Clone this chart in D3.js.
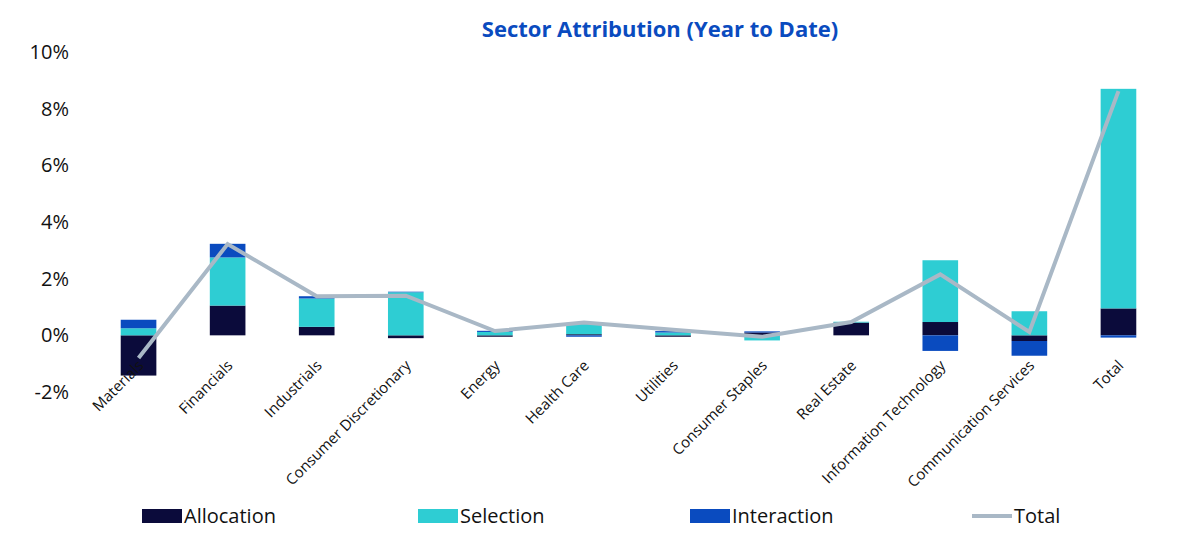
<!DOCTYPE html>
<html><head><meta charset="utf-8">
<script src="https://cdn.jsdelivr.net/npm/d3@7"></script>
<style>body{margin:0;background:#fff;font-family:"Open Sans",sans-serif;}</style>
</head><body><div id="chart"></div>
<script>
var sectors = ["Materials","Financials","Industrials","Consumer Discretionary","Energy","Health Care","Utilities","Consumer Staples","Real Estate","Information Technology","Communication Services","Total"];
var allocation = [-1.42, 1.05, 0.3, -0.1, -0.05, 0.04, -0.05, 0.1, 0.45, 0.47, -0.2, 0.95];
var selection = [0.25, 1.7, 1.0, 1.52, 0.12, 0.4, 0.1, -0.18, 0.03, 2.18, 0.85, 7.75];
var interaction = [0.3, 0.48, 0.08, 0.02, 0.04, -0.05, 0.05, 0.04, 0.0, -0.55, -0.52, -0.08];
var totals = [-0.8, 3.22, 1.38, 1.4, 0.15, 0.45, 0.2, -0.05, 0.47, 2.15, 0.12, 8.62];
var yTicks = [-2, 0, 2, 4, 6, 8, 10];

var keys = ["allocation","selection","interaction"];
var colors = {allocation:"#0b0b3b", selection:"#2ecdd3", interaction:"#0a4bbf"};
var rows = sectors.map(function(s, i) {
  return {sector: s, allocation: allocation[i], selection: selection[i], interaction: interaction[i]};
});

var W = 1200, H = 534;
var svg = d3.select("#chart").append("svg").attr("width", W).attr("height", H);

var x = d3.scaleBand().domain(sectors).range([94, 1163]).paddingInner(0.6).paddingOuter(0.3);
var y = d3.scaleLinear().domain([-2, 10]).range([392, 52]);

var series = d3.stack().keys(keys).offset(d3.stackOffsetDiverging)(rows);

svg.append("g").selectAll("g").data(series).enter().append("g")
  .attr("fill", function(d) { return colors[d.key]; })
  .selectAll("rect").data(function(d) { return d; }).enter().append("rect")
    .attr("x", function(d) { return x(d.data.sector); })
    .attr("width", x.bandwidth())
    .attr("y", function(d) { return y(Math.max(d[0], d[1])); })
    .attr("height", function(d) { return Math.abs(y(d[0]) - y(d[1])); });

var line = d3.line()
  .x(function(d, i) { return x(sectors[i]) + x.bandwidth() / 2; })
  .y(function(d) { return y(d); });
svg.append("path").datum(totals).attr("d", line)
  .attr("fill", "none").attr("stroke", "#a9b8c6").attr("stroke-width", 4);

// y axis labels only
svg.append("g").attr("transform", "translate(72,0)")
  .call(d3.axisLeft(y).tickValues(yTicks).tickSize(0).tickFormat(function(d) { return d + "%"; }))
  .call(function(g) { g.select(".domain").remove(); })
  .selectAll("text").style("font-size", "20px").style("font-family", "Open Sans").attr("fill", "#111");

// category labels
svg.append("g").selectAll("text").data(sectors).enter().append("text")
  .attr("transform", function(d) { return "translate(" + (x(d) + x.bandwidth() / 2 + 6) + "," + (y(-1.1)) + ") rotate(-45)"; })
  .attr("text-anchor", "end")
  .style("font-size", "15px").attr("fill", "#111")
  .text(function(d) { return d; });

svg.append("text").attr("x", 660).attr("y", 37).attr("text-anchor", "middle")
  .style("font-size", "22px").style("font-weight", "bold").attr("fill", "#0a4bbf")
  .text("Sector Attribution (Year to Date)");

var legend = [
  {name: "Allocation", color: colors.allocation, x: 142, line: false},
  {name: "Selection", color: colors.selection, x: 418, line: false},
  {name: "Interaction", color: colors.interaction, x: 690, line: false},
  {name: "Total", color: "#a9b8c6", x: 972, line: true}
];
var lg = svg.append("g").selectAll("g").data(legend).enter().append("g")
  .attr("transform", function(d) { return "translate(" + d.x + ",516)"; });
lg.append("rect")
  .attr("y", function(d) { return d.line ? -2 : -7; })
  .attr("width", 40).attr("height", function(d) { return d.line ? 4 : 14; })
  .attr("fill", function(d) { return d.color; });
lg.append("text").attr("x", 42).attr("y", 7)
  .style("font-size", "20px").attr("fill", "#111")
  .text(function(d) { return d.name; });
</script>
</body></html>
